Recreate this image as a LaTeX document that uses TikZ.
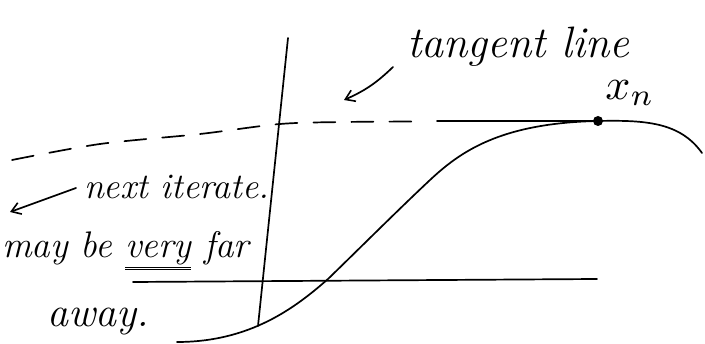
\documentclass[tikz,border=0pt]{standalone}
\usetikzlibrary{arrows.meta}
\begin{document}
\begin{tikzpicture}[x=1pt,y=-1pt,
  ink/.style={line width=1.7pt,line cap=round,line join=round},
  hand/.style={inner sep=0pt},
  barb/.style={ink,-{Straight Barb[length=9pt,width=12pt,line width=1.6pt]}}]
\useasboundingbox (0,0) rectangle (705,344);
\clip (0,0) rectangle (705,344);
% axes
\coordinate (vt) at (288,38);
\coordinate (vb) at (258,326);
\coordinate (hl) at (133,282);
\coordinate (hr) at (597,279);
\draw[ink] (vt) -- (vb);
\draw[ink] (hl) -- (hr);
% curve
\coordinate (c0) at (177,342);
\coordinate (c1) at (328,279);
\coordinate (c2) at (430,180);
\coordinate (c4) at (702,153);
\node[circle,fill=black,inner sep=0pt,minimum size=10pt] (xn) at (598,121) {};
\draw[ink] (c0) .. controls (250,342) and (295,308) .. (c1)
  .. controls (362,246) and (398,210) .. (c2)
  .. controls (460,152) and (500,123) .. (xn.center)
  .. controls (645,120) and (680,122) .. (c4);
% tangent line
\coordinate (ts) at (437,121);
\draw[ink] (ts) -- (xn.center);
\draw[ink,dash pattern=on 22pt off 16pt] plot[smooth,tension=0.5] coordinates {(12,160) (100,144) (200,134) (280,124) (345,122) (420,121.5)};
% labels
\node[hand,anchor=base west,font=\fontsize{44}{48}\selectfont\itshape] (tl) at (407,58) {tangent line};
\node[inner sep=0pt,scale=4.4] (xl) at (630,93) {$x_n$};
\coordinate (tla) at (393,67);
\coordinate (tlb) at (344,100);
\draw[barb] (tla) to[bend left=10] (tlb);
\node[hand,anchor=base west,font=\fontsize{36}{40}\selectfont\itshape] (ni) at (84,199) {next iterate.};
\coordinate (nia) at (76,188);
\coordinate (nib) at (10,212);
\draw[barb] (nia) -- (nib);
\node[hand,anchor=base west,font=\fontsize{37}{42}\selectfont\itshape] (mb) at (2,258) {may be \underline{\underline{very}} far};
\node[hand,anchor=base west,font=\fontsize{42}{46}\selectfont\itshape] (aw) at (47,327) {away.};
\end{tikzpicture}
\end{document}
